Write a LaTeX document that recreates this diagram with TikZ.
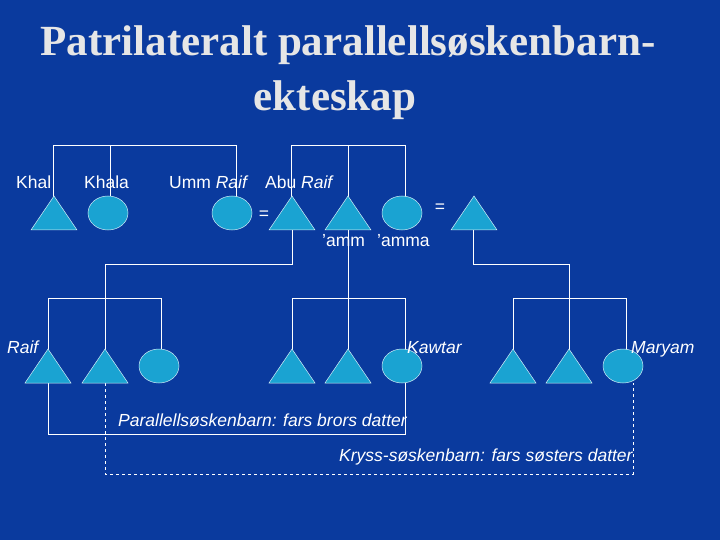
\documentclass[tikz,border=0pt]{standalone}
\usepackage{fontspec}
\setmainfont{Liberation Sans}
\newfontfamily\titlefont{Liberation Serif}
\usetikzlibrary{shapes.geometric}
\definecolor{bg}{HTML}{0A3A9E}
\definecolor{sym}{HTML}{1AA3D2}
\definecolor{titlec}{HTML}{E6E6E6}
\tikzset{
 ln/.style={white,line width=0.8pt},
 tri/.style={fill=sym,draw=white!80!sym,line width=0.5pt},
 ell/.style={fill=sym,draw=white!80!sym,line width=0.5pt},
 lab/.style={text=white,font=\fontsize{17.5}{19}\selectfont,inner sep=0pt},
}
\newcommand{\triat}[3]{\path[tri] (#2-23,#3+17) -- (#2,#3-17) -- (#2+23,#3+17) -- cycle; \coordinate (#1t) at (#2,#3-17); \coordinate (#1b) at (#2,#3+17);}
\newcommand{\ellat}[3]{\path[ell] (#2,#3) ellipse[x radius=20,y radius=17]; \coordinate (#1t) at (#2,#3-17); \coordinate (#1b) at (#2,#3+17);}
\begin{document}
\begin{tikzpicture}[x=1pt,y=-1pt]
\fill[bg] (0,0) rectangle (720,540);
\useasboundingbox (0,0) rectangle (720,540);
\node[text=titlec,font=\titlefont\bfseries\fontsize{43}{46}\selectfont] (t1) at (348,45) {Patrilateralt parallellsøskenbarn-};
\node[text=titlec,font=\titlefont\bfseries\fontsize{43}{46}\selectfont] (t2) at (335,100) {ekteskap};
% lines first
\coordinate (k1) at (53,145); \coordinate (k2) at (236,145);
\coordinate (p1) at (291,145); \coordinate (p2) at (405,145);
\draw[ln] (53,213) -- (k1) -- (k2) -- (236,213);
\draw[ln] (110,213) -- (110,145);
\draw[ln] (291,213) -- (p1) -- (p2) -- (405,213);
\draw[ln] (348,213) -- (348,145);
\draw[ln] (292,230) -- (292,264) -- (105,264) -- (105,366);
\draw[ln] (348,230) -- (348,366);
\draw[ln] (473,230) -- (473,264) -- (569,264) -- (569,366);
\draw[ln] (48,366) -- (48,298) -- (161,298) -- (161,366);
\draw[ln] (292,366) -- (292,298) -- (405,298) -- (405,366);
\draw[ln] (513,366) -- (513,298) -- (626,298) -- (626,366);
\draw[ln] (48,383) -- (48,434) -- (405,434) -- (405,383);
\draw[ln,dashed,line width=0.6pt] (105,383) -- (105,474) -- (633,474) -- (633,383);
% top generation
\triat{a}{54}{213}
\ellat{b}{108}{213}
\ellat{c}{232}{213}
\triat{d}{292}{213}
\triat{e}{348}{213}
\ellat{f}{402}{213}
\triat{g}{474}{213}
% children
\triat{h}{48}{366}
\triat{i}{105}{366}
\ellat{j}{159}{366}
\triat{k}{292}{366}
\triat{l}{348}{366}
\ellat{m}{402}{366}
\triat{n}{513}{366}
\triat{o}{569}{366}
\ellat{q}{623}{366}
% labels
\node[lab,anchor=base west] (l1) at (16,189) {Khal};
\node[lab,anchor=base west] (l2) at (84,189) {Khala};
\node[lab,anchor=base west] (l3) at (169,189) {Umm \textit{Raif}};
\node[lab,anchor=base west] (l4) at (265,189) {Abu \textit{Raif}};
\node[lab,anchor=base] (e1) at (264,220) {=};
\node[lab,anchor=base] (e2) at (440,213) {=};
\node[lab,anchor=base west] (l5) at (322,246) {’amm};
\node[lab,anchor=base west] (l6) at (377,246) {’amma};
\node[lab,anchor=base west] (r1) at (7,353) {\textit{Raif}};
\node[lab,anchor=base west] (r2) at (407,353) {\textit{Kawtar}};
\node[lab,anchor=base west] (r3) at (631,353) {\textit{Maryam}};
\node[lab,anchor=base west] (n1) at (118,426) {\textit{Parallellsøskenbarn: fars brors datter}};
\node[lab,anchor=base west] (n2) at (339,461) {\textit{Kryss-søskenbarn: fars søsters datter}};
\end{tikzpicture}
\end{document}
